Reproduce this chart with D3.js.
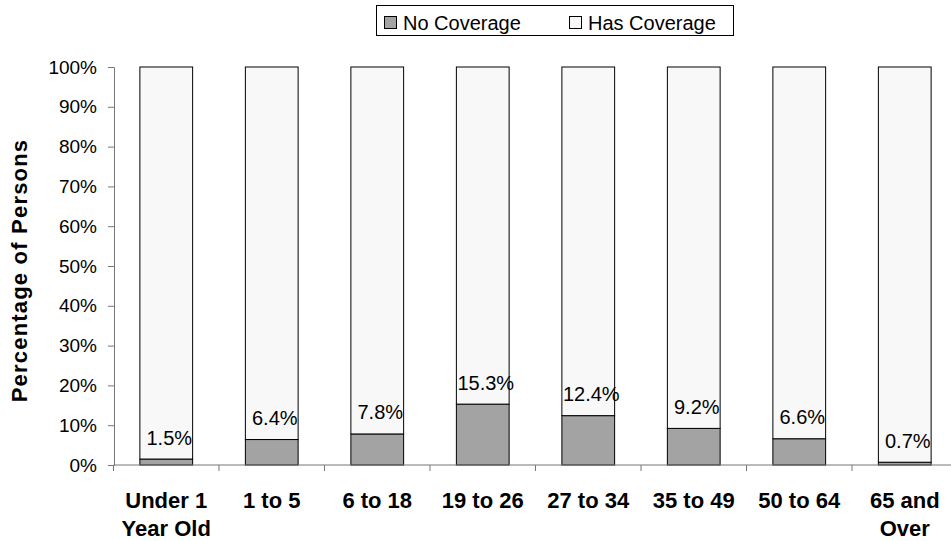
<!DOCTYPE html>
<html>
<head>
<meta charset="utf-8">
<script src="https://cdn.jsdelivr.net/npm/d3@7"></script>
<style>
  body { margin: 0; background: #fff; }
  svg { display: block; font-family: Arial, "Liberation Sans", sans-serif; }
</style>
</head>
<body>
<svg width="951" height="541"></svg>
<script>
// data
var categories = ['Under 1 Year Old', '1 to 5', '6 to 18', '19 to 26', '27 to 34', '35 to 49', '50 to 64', '65 and Over'];
var categoryLines = [['Under 1', 'Year Old'], ['1 to 5'], ['6 to 18'], ['19 to 26'], ['27 to 34'], ['35 to 49'], ['50 to 64'], ['65 and', 'Over']];
var noCoverage = [1.5, 6.4, 7.8, 15.3, 12.4, 9.2, 6.6, 0.7];
var hasCoverage = [98.5, 93.6, 92.2, 84.7, 87.6, 90.8, 93.4, 99.3];
var seriesNames = ['No Coverage', 'Has Coverage'];
var yTicks = [0, 10, 20, 30, 40, 50, 60, 70, 80, 90, 100];

var colors = { 'No Coverage': '#a3a3a3', 'Has Coverage': '#f8f8f8' };

var svg = d3.select('svg');

var rows = categories.map(function(c, i){
    return { category: c, 'No Coverage': noCoverage[i], 'Has Coverage': hasCoverage[i] };
});

var xScale = d3.scaleBand()
    .domain(categories)
    .range([113.5, 957.5])
    .paddingInner(0.5)
    .paddingOuter(0.25);

var yScale = d3.scaleLinear()
    .domain([0, 100])
    .range([465, 67]);

var stacked = d3.stack().keys(seriesNames)(rows);

// bars
svg.append('g').selectAll('g')
    .data(stacked)
    .enter()
    .append('g')
    .attr('fill', function(d){ return colors[d.key]; })
    .selectAll('rect')
    .data(function(d){ return d; })
    .enter()
    .append('rect')
    .attr('x', function(d){ return xScale(d.data.category); })
    .attr('width', xScale.bandwidth())
    .attr('y', function(d){ return yScale(d[1]); })
    .attr('height', function(d){ return yScale(d[0]) - yScale(d[1]); })
    .attr('stroke', '#000')
    .attr('stroke-width', 1);

// value labels above the grey part
svg.append('g').selectAll('text')
    .data(rows)
    .enter()
    .append('text')
    .attr('x', function(d){ return xScale(d.category) + xScale.bandwidth() / 2 + 3; })
    .attr('y', function(d){ return yScale(d['No Coverage']) - 14.5; })
    .attr('text-anchor', 'middle')
    .attr('font-size', '20px')
    .attr('fill', '#000')
    .text(function(d){ return d['No Coverage'].toFixed(1) + '%'; });

// y axis
var yAxis = d3.axisLeft(yScale)
    .tickValues(yTicks)
    .tickSize(6)
    .tickPadding(11)
    .tickFormat(function(d){ return d + '%'; });

var gy = svg.append('g')
    .attr('transform', 'translate(114,0)')
    .call(yAxis);
gy.select('.domain').attr('stroke', '#777');
gy.selectAll('.tick line').attr('stroke', '#777');
gy.selectAll('.tick text')
    .attr('font-size', '19px')
    .attr('font-family', 'Arial, "Liberation Sans", sans-serif')
    .attr('fill', '#000');

// x axis: line with ticks between categories
var step = xScale.step();
var xStart = xScale.range()[0];
var gx = svg.append('g');
gx.append('line')
    .attr('x1', xStart).attr('x2', xScale.range()[1])
    .attr('y1', yScale(0)).attr('y2', yScale(0))
    .attr('stroke', '#777');
gx.selectAll('.xtick')
    .data(d3.range(categories.length + 1))
    .enter()
    .append('line')
    .attr('class', 'xtick')
    .attr('x1', function(i){ return xStart + i * step; })
    .attr('x2', function(i){ return xStart + i * step; })
    .attr('y1', yScale(0))
    .attr('y2', yScale(0) + 6)
    .attr('stroke', '#777');

var catText = gx.selectAll('.cat')
    .data(categories)
    .enter()
    .append('text')
    .attr('class', 'cat')
    .attr('text-anchor', 'middle')
    .attr('font-size', '22px')
    .attr('font-weight', 'bold')
    .attr('fill', '#000');
catText.each(function(c, i){
    var cx = xScale(c) + xScale.bandwidth() / 2;
    d3.select(this).selectAll('tspan')
        .data(categoryLines[i])
        .enter()
        .append('tspan')
        .attr('x', cx)
        .attr('y', function(l, j){ return 508 + j * 28; })
        .text(function(l){ return l; });
});

// y axis title
svg.append('text')
    .attr('transform', 'translate(27,270.5) rotate(-90)')
    .attr('text-anchor', 'middle')
    .attr('font-size', '22px')
    .attr('font-weight', 'bold')
    .attr('letter-spacing', '1.2px')
    .attr('fill', '#000')
    .text('Percentage of Persons');

// legend
var legend = svg.append('g');
legend.append('rect')
    .attr('x', 376.5).attr('y', 5.5)
    .attr('width', 357).attr('height', 30)
    .attr('fill', '#fff')
    .attr('stroke', '#000');
var legendX = [384, 569];
var item = legend.selectAll('.item')
    .data(seriesNames)
    .enter()
    .append('g')
    .attr('class', 'item')
    .attr('transform', function(d, i){ return 'translate(' + legendX[i] + ',0)'; });
item.append('rect')
    .attr('x', 0.5).attr('y', 16.5)
    .attr('width', 12).attr('height', 12)
    .attr('fill', function(d){ return colors[d]; })
    .attr('stroke', '#000');
item.append('text')
    .attr('x', 19)
    .attr('y', 30)
    .attr('font-size', '20px')
    .attr('fill', '#000')
    .text(function(d){ return d; });
</script>
</body>
</html>
